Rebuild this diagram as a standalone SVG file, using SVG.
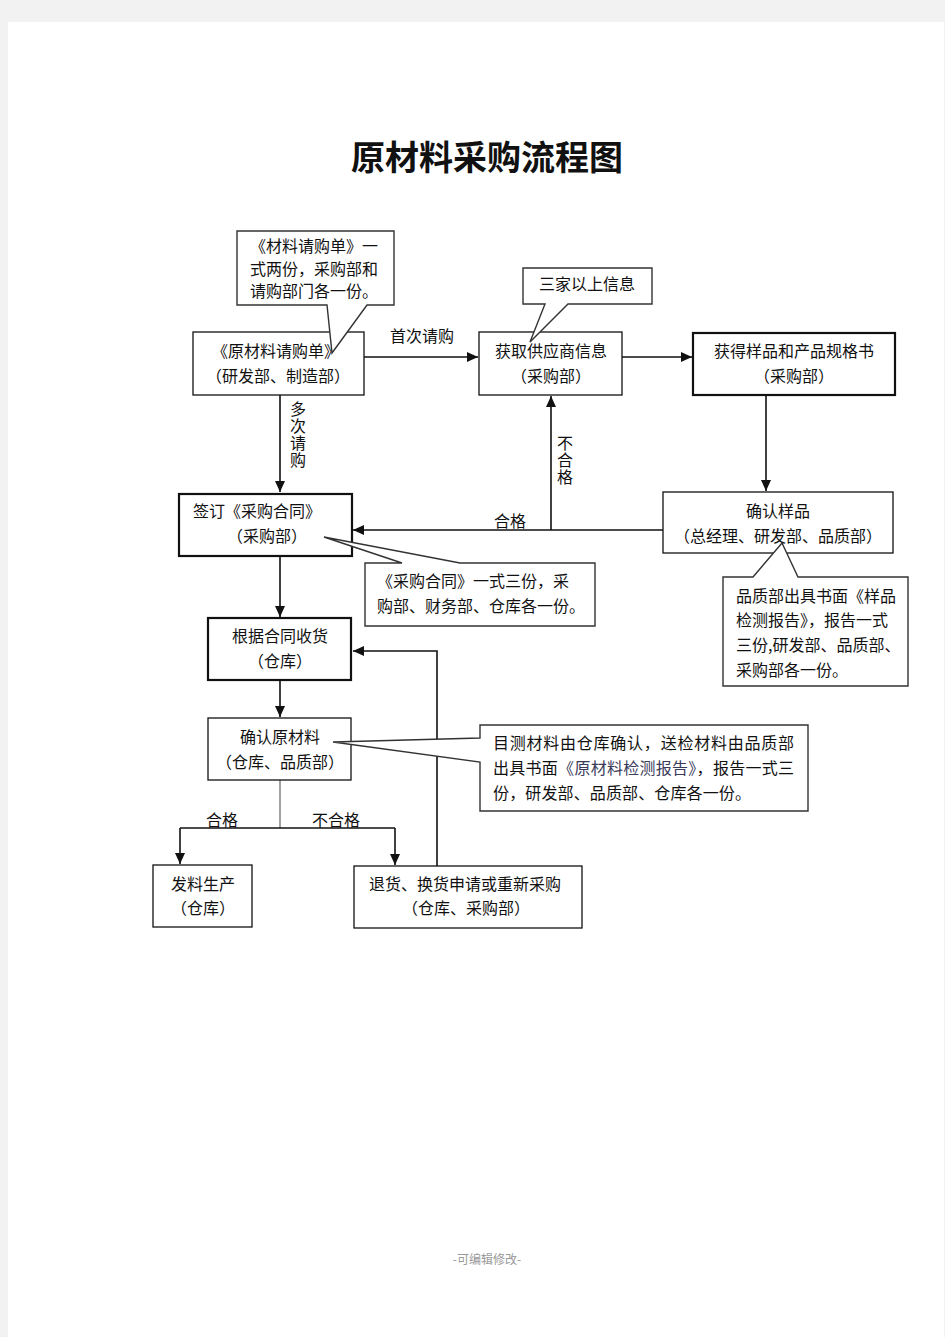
<svg xmlns="http://www.w3.org/2000/svg" width="945" height="1337" viewBox="0 0 945 1337">
<style>
.t{font-family:"Noto Sans CJK SC","Noto Sans CJK JP",sans-serif;font-size:16px;fill:#111}
.m{text-anchor:middle}
.v{writing-mode:tb;glyph-orientation-vertical:0;letter-spacing:1px}
.box{fill:#fff;stroke:#111;stroke-width:1.3}
.bold{fill:#fff;stroke:#111;stroke-width:2.2}
.call{fill:#fff;stroke:#333;stroke-width:1.4}
.ln{fill:none;stroke:#111;stroke-width:1.6}
</style>
<defs>
<marker id="ah" markerUnits="userSpaceOnUse" markerWidth="12" markerHeight="10" refX="11" refY="5" orient="auto">
<path d="M0,0 L11,5 L0,10 Z" fill="#111"/>
</marker>
</defs>
<rect x="0" y="0" width="945" height="1337" fill="#f2f2f2"/>
<rect x="8" y="22" width="936" height="1315" fill="#fff"/>
<text x="487" y="170" text-anchor="middle" style="font-family:'Noto Sans CJK SC',sans-serif;font-size:34px;font-weight:bold;fill:#111">原材料采购流程图</text>

<g id="connectors">
<path class="ln" d="M364,357 H478" marker-end="url(#ah)"/>
<path class="ln" d="M622,357 H692" marker-end="url(#ah)"/>
<path class="ln" d="M766,395 V491" marker-end="url(#ah)"/>
<path class="ln" d="M663,530 H353" marker-end="url(#ah)"/>
<path class="ln" d="M551,530 V396" marker-end="url(#ah)"/>
<path class="ln" d="M280,395 V492" marker-end="url(#ah)"/>
<path class="ln" d="M280,556 V617" marker-end="url(#ah)"/>
<path class="ln" d="M280,680 V717" marker-end="url(#ah)"/>
<path fill="none" stroke="#444" stroke-width="1" d="M280,780 V828"/>
<path class="ln" d="M180,828 H395"/>
<path class="ln" d="M180,828 V864" marker-end="url(#ah)"/>
<path class="ln" d="M395,828 V865" marker-end="url(#ah)"/>
<path class="ln" d="M437,866 V651 H353" marker-end="url(#ah)"/>
<text class="t m" x="422" y="342">首次请购</text>
<text class="t m" x="510" y="527">合格</text>
<text class="t v" x="565" y="435">不合格</text>
<text class="t v" x="298" y="401">多次请购</text>
<text class="t m" x="222" y="826">合格</text>
<text class="t m" x="336" y="826">不合格</text>
</g>

<g id="n-request">
<rect class="box" x="193" y="332" width="171" height="63"/>
<text class="t m" x="276" y="357">《原材料请购单》</text>
<text class="t m" x="278" y="382">（研发部、制造部）</text>
</g>
<g id="n-supplier">
<rect class="box" x="479" y="332" width="143" height="63"/>
<text class="t m" x="551" y="357">获取供应商信息</text>
<text class="t m" x="551" y="382">（采购部）</text>
</g>
<g id="n-sample">
<rect class="bold" x="693" y="333" width="202" height="62"/>
<text class="t m" x="794" y="357">获得样品和产品规格书</text>
<text class="t m" x="794" y="382">（采购部）</text>
</g>
<g id="n-confirm-sample">
<rect class="box" x="663" y="492" width="230" height="61"/>
<text class="t m" x="778" y="517">确认样品</text>
<text class="t m" x="778" y="542">（总经理、研发部、品质部）</text>
</g>
<g id="n-contract">
<rect class="bold" x="179" y="494" width="173" height="62"/>
<text class="t m" x="257" y="517">签订《采购合同》</text>
<text class="t m" x="267" y="542">（采购部）</text>
</g>
<g id="n-receive">
<rect class="bold" x="208" y="618" width="143" height="62"/>
<text class="t m" x="280" y="642">根据合同收货</text>
<text class="t m" x="280" y="667">（仓库）</text>
</g>
<g id="n-confirm-material">
<rect class="box" x="208" y="718" width="143" height="62"/>
<text class="t m" x="280" y="743">确认原材料</text>
<text class="t m" x="280" y="768">（仓库、品质部）</text>
</g>
<g id="n-issue">
<rect class="box" x="153" y="865" width="99" height="62"/>
<text class="t m" x="203" y="890">发料生产</text>
<text class="t m" x="203" y="914">（仓库）</text>
</g>
<g id="n-return">
<rect class="box" x="354" y="866" width="228" height="62"/>
<text class="t m" x="465" y="890">退货、换货申请或重新采购</text>
<text class="t m" x="466" y="914">（仓库、采购部）</text>
</g>

<g id="c-request">
<path class="call" d="M237,231 H394 V305 H367 L332,353 L327,305 H237 Z"/>
<text class="t" x="250" y="252">《材料请购单》一</text>
<text class="t" x="250" y="275">式两份，采购部和</text>
<text class="t" x="250" y="297">请购部门各一份。</text>
</g>
<g id="c-three">
<path class="call" d="M523,268 H652 V304 H568 L530,342 L545,304 H523 Z"/>
<text class="t m" x="587" y="290">三家以上信息</text>
</g>
<g id="c-contract">
<path class="call" d="M365,563 H402 L324,537 L460,563 H595 V626 H365 Z"/>
<text class="t" x="377" y="587">《采购合同》一式三份，采</text>
<text class="t" x="377" y="612">购部、财务部、仓库各一份。</text>
</g>
<g id="c-quality">
<path class="call" d="M723,577 H753 L782,543 L798,577 H908 V686 H723 Z"/>
<text class="t" x="736" y="602">品质部出具书面《样品</text>
<text class="t" x="736" y="626">检测报告》，报告一式</text>
<text class="t" x="736" y="651">三份,研发部、品质部、</text>
<text class="t" x="736" y="676">采购部各一份。</text>
</g>
<g id="c-material">
<path class="call" d="M480,725 H808 V811 H480 V762 L333,742 L480,738 Z"/>
<text class="t" x="493" y="749" textLength="301" lengthAdjust="spacing">目测材料由仓库确认，送检材料由品质部</text>
<text class="t" x="493" y="774" textLength="301" lengthAdjust="spacing">出具书面<tspan fill="#3a3a5a">《原材料检测报告》</tspan>，报告一式三</text>
<text class="t" x="493" y="799" textLength="258" lengthAdjust="spacing">份，研发部、品质部、仓库各一份。</text>
</g>

<text x="487" y="1264" text-anchor="middle" style="font-family:'Noto Sans CJK SC',sans-serif;font-size:12px;fill:#999">-可编辑修改-</text>
</svg>
